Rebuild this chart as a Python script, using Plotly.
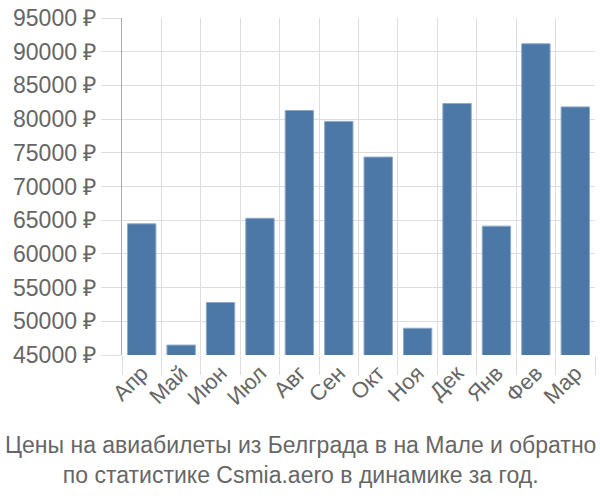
import plotly.graph_objects as go

months = ["Апр", "Май", "Июн", "Июл", "Авг", "Сен", "Окт", "Ноя", "Дек", "Янв", "Фев", "Мар"]
prices = [64460, 46470, 52790, 65290, 81280, 79660, 74370, 48970, 82310, 64120, 91180, 81810]
y_ticks = [45000, 50000, 55000, 60000, 65000, 70000, 75000, 80000, 85000, 90000, 95000]
y_labels = [f"{v} ₽" for v in y_ticks]
title_lines = ["Цены на авиабилеты из Белграда в на Мале и обратно",
               "по статистике Csmia.aero в динамике за год."]

fig = go.Figure(go.Bar(
    x=months, y=prices,
    marker=dict(color="#4c78a8", line=dict(color="#8fa9c8", width=1)),
    width=0.72,
))

fig.update_layout(
    width=600, height=500,
    margin=dict(l=122, r=5, t=14, b=145),
    plot_bgcolor="white", paper_bgcolor="white",
    font=dict(family="Liberation Sans, Arial, sans-serif", color="#666666", size=22),
    showlegend=False,
    xaxis=dict(
        tickangle=-45, tickson="boundaries", ticks="outside", ticklen=19,
        tickcolor="#dddddd", showgrid=True, gridcolor="#dddddd", gridwidth=1,
        tickfont=dict(size=22, color="#666666"), showline=False, zeroline=False,
    ),
    yaxis=dict(
        range=[45000, 95000], tickvals=y_ticks, ticktext=y_labels,
        ticks="outside", ticklen=20, tickcolor="#dddddd",
        showgrid=True, gridcolor="#dddddd", gridwidth=1,
        showline=True, linecolor="#aaaaaa", linewidth=1,
        tickfont=dict(size=23, color="#666666"), zeroline=False,
    ),
    annotations=[dict(
        text="<br>".join(title_lines), xref="paper", yref="paper",
        x=0.5, xanchor="center", y=-0.2, yanchor="top", xshift=-58, yshift=-8,
        showarrow=False, font=dict(size=23, color="#666666"),
    )],
)

fig.write_html("out.html")
